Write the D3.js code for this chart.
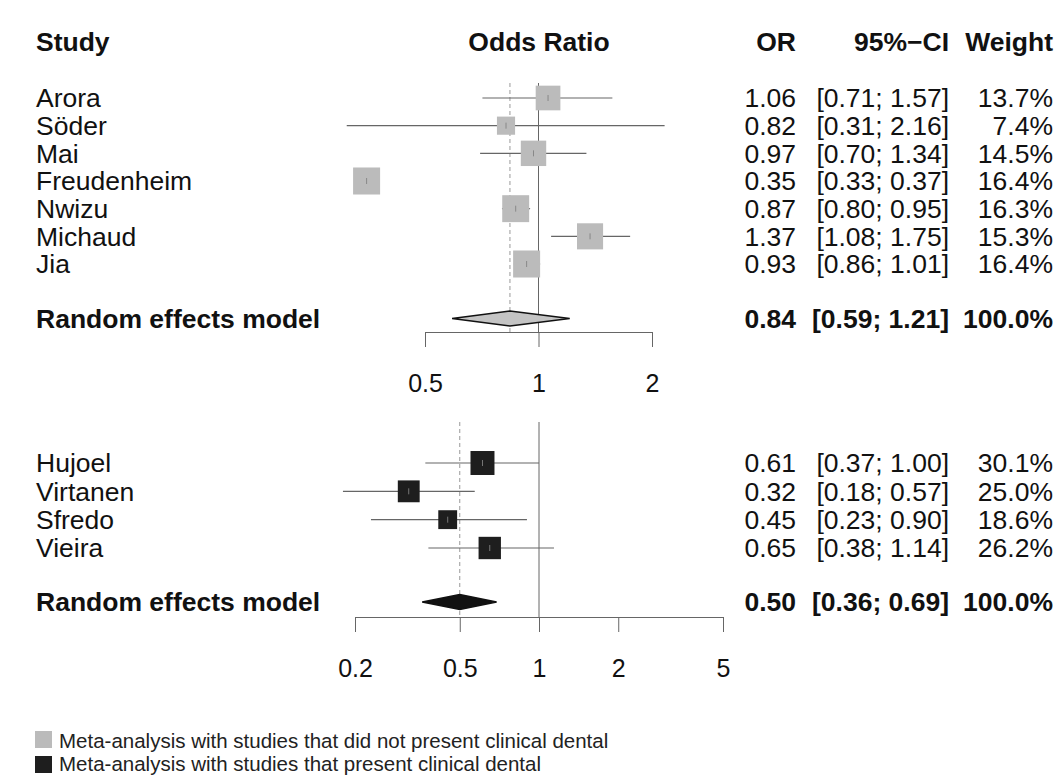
<!DOCTYPE html>
<html>
<head>
<meta charset="utf-8">
<script src="https://cdn.jsdelivr.net/npm/d3@7"></script>
<style>
  body { margin: 0; background: #fff; }
  svg { display: block; font-family: "Liberation Sans", Arial, sans-serif; }
</style>
</head>
<body>
<script>
// group A: studies that did not present clinical dental exam
const studiesA = ["Arora", "Söder", "Mai", "Freudenheim", "Nwizu", "Michaud", "Jia"];
const orA = [1.06, 0.82, 0.97, 0.35, 0.87, 1.37, 0.93];
const lowA = [0.71, 0.31, 0.70, 0.33, 0.80, 1.08, 0.86];
const highA = [1.57, 2.16, 1.34, 0.37, 0.95, 1.75, 1.01];
const weightA = [13.7, 7.4, 14.5, 16.4, 16.3, 15.3, 16.4];
const pooledA = [0.84, 0.59, 1.21];
const ticksA = [0.5, 1, 2];

// group B: studies that present clinical dental exam
const studiesB = ["Hujoel", "Virtanen", "Sfredo", "Vieira"];
const orB = [0.61, 0.32, 0.45, 0.65];
const lowB = [0.37, 0.18, 0.23, 0.38];
const highB = [1.00, 0.57, 0.90, 1.14];
const weightB = [30.1, 25.0, 18.6, 26.2];
const pooledB = [0.50, 0.36, 0.69];
const ticksB = [0.2, 0.5, 1, 2, 5];

const legendLabels = [
  "Meta-analysis with studies that did not present clinical dental",
  "Meta-analysis with studies that present clinical dental"
];

const width = 1063, height = 780;
const fs = 26.5;
const fmt = d3.format(".2f");
// right edges of the text columns
const colOR = 796, colCI = 949, colW = 1053;

const svg = d3.select("body").append("svg")
  .attr("width", width)
  .attr("height", height);

// column headers
const head = svg.append("g").attr("font-weight", "bold").attr("font-size", fs).attr("fill", "#111");
head.append("text").attr("x", 36).attr("y", 42).attr("dy", "0.35em").text("Study");
head.append("text").attr("x", 539).attr("y", 42).attr("dy", "0.35em").attr("text-anchor", "middle").text("Odds Ratio");
head.append("text").attr("x", colOR).attr("y", 42).attr("dy", "0.35em").attr("text-anchor", "end").text("OR");
head.append("text").attr("x", colCI).attr("y", 42).attr("dy", "0.35em").attr("text-anchor", "end").text("95%\u2212CI");
head.append("text").attr("x", colW).attr("y", 42).attr("dy", "0.35em").attr("text-anchor", "end").text("Weight");

function panel(opt) {
  const { names, or, low, high, weight, pooled, ticks, x, y, yPooled, yAxis, yTop, boxK, boxFill, tickCol, diamondFill } = opt;
  const g = svg.append("g");
  const rows = names.map((n, i) => ({ name: n, or: or[i], lo: low[i], hi: high[i], w: weight[i], i }));

  // reference lines
  g.append("line")
    .attr("x1", x(1)).attr("x2", x(1))
    .attr("y1", yTop).attr("y2", yAxis)
    .attr("stroke", "#666").attr("stroke-width", 1);
  g.append("line")
    .attr("x1", x(pooled[0])).attr("x2", x(pooled[0]))
    .attr("y1", yTop).attr("y2", yAxis)
    .attr("stroke", "#999").attr("stroke-width", 1).attr("stroke-dasharray", "4,3");

  // CI lines
  g.selectAll(".ci").data(rows).join("line")
    .attr("x1", d => x(d.lo)).attr("x2", d => x(d.hi))
    .attr("y1", d => y(d.i)).attr("y2", d => y(d.i))
    .attr("stroke", "#666").attr("stroke-width", 1.2);

  // boxes, side ~ sqrt(weight)
  g.selectAll(".box").data(rows).join("rect")
    .attr("x", d => x(d.or) - boxK * Math.sqrt(d.w) / 2)
    .attr("y", d => y(d.i) - boxK * Math.sqrt(d.w) / 2)
    .attr("width", d => boxK * Math.sqrt(d.w))
    .attr("height", d => boxK * Math.sqrt(d.w))
    .attr("fill", boxFill);
  g.selectAll(".mark").data(rows).join("line")
    .attr("x1", d => x(d.or)).attr("x2", d => x(d.or))
    .attr("y1", d => y(d.i) - 3).attr("y2", d => y(d.i) + 3)
    .attr("stroke", tickCol).attr("stroke-width", 1);

  // pooled diamond
  g.append("path")
    .attr("d", `M${x(pooled[1])},${yPooled} L${x(pooled[0])},${yPooled - 7.5} L${x(pooled[2])},${yPooled} L${x(pooled[0])},${yPooled + 7.5} Z`)
    .attr("fill", diamondFill).attr("stroke", "#111").attr("stroke-width", 1.5);

  // axis
  const ax = g.append("g")
    .attr("transform", `translate(0,${yAxis})`)
    .call(d3.axisBottom(x).tickValues(ticks).tickSize(15).tickSizeOuter(0).tickPadding(27).tickFormat(d => d));
  ax.select(".domain").attr("stroke", "#666");
  ax.selectAll(".tick line").attr("stroke", "#666");
  ax.selectAll(".tick text").attr("font-size", 25).attr("fill", "#111").attr("font-family", "Liberation Sans, Arial, sans-serif");

  // labels
  const t = g.append("g").attr("font-size", fs).attr("fill", "#111");
  t.selectAll(".name").data(rows).join("text")
    .attr("x", 36).attr("y", d => y(d.i)).attr("dy", "0.35em").text(d => d.name);
  t.selectAll(".or").data(rows).join("text")
    .attr("x", colOR).attr("y", d => y(d.i)).attr("dy", "0.35em").attr("text-anchor", "end").text(d => fmt(d.or));
  t.selectAll(".cil").data(rows).join("text")
    .attr("x", colCI).attr("y", d => y(d.i)).attr("dy", "0.35em").attr("text-anchor", "end")
    .text(d => `[${fmt(d.lo)}; ${fmt(d.hi)}]`);
  t.selectAll(".w").data(rows).join("text")
    .attr("x", colW).attr("y", d => y(d.i)).attr("dy", "0.35em").attr("text-anchor", "end").text(d => d.w.toFixed(1) + "%");

  const s = g.append("g").attr("font-size", fs).attr("font-weight", "bold").attr("fill", "#111");
  s.append("text").attr("x", 36).attr("y", yPooled).attr("dy", "0.35em").text("Random effects model");
  s.append("text").attr("x", colOR).attr("y", yPooled).attr("dy", "0.35em").attr("text-anchor", "end").text(fmt(pooled[0]));
  s.append("text").attr("x", colCI).attr("y", yPooled).attr("dy", "0.35em").attr("text-anchor", "end")
    .text(`[${fmt(pooled[1])}; ${fmt(pooled[2])}]`);
  s.append("text").attr("x", colW).attr("y", yPooled).attr("dy", "0.35em").attr("text-anchor", "end").text("100.0%");
}

panel({
  names: studiesA, or: orA, low: lowA, high: highA, weight: weightA, pooled: pooledA, ticks: ticksA,
  x: d3.scaleLog().domain([0.5, 2]).range([425, 652]),
  y: d3.scaleLinear().domain([0, studiesA.length - 1]).range([98, 264]),
  yPooled: 318.5, yAxis: 332, yTop: 83, boxK: 6.67,
  boxFill: "#bbbbbb", tickCol: "#888", diamondFill: "#c4c4c4"
});

panel({
  names: studiesB, or: orB, low: lowB, high: highB, weight: weightB, pooled: pooledB, ticks: ticksB,
  x: d3.scaleLog().domain([0.2, 5]).range([355, 723]),
  y: d3.scaleLinear().domain([0, studiesB.length - 1]).range([463, 548]),
  yPooled: 602, yAxis: 617, yTop: 422, boxK: 4.37,
  boxFill: "#1e1e1e", tickCol: "#777", diamondFill: "#111"
});

// legend
const lg = svg.append("g").attr("font-size", 20.5).attr("fill", "#222");
lg.selectAll("rect").data(legendLabels).join("rect")
  .attr("x", 35).attr("y", (d, i) => 731 + i * 25)
  .attr("width", 17).attr("height", 17)
  .attr("fill", (d, i) => i === 0 ? "#bbbbbb" : "#1e1e1e");
lg.selectAll("text").data(legendLabels).join("text")
  .attr("x", 59).attr("y", (d, i) => 741 + i * 23).attr("dy", "0.35em")
  .text(d => d);
</script>
</body>
</html>
